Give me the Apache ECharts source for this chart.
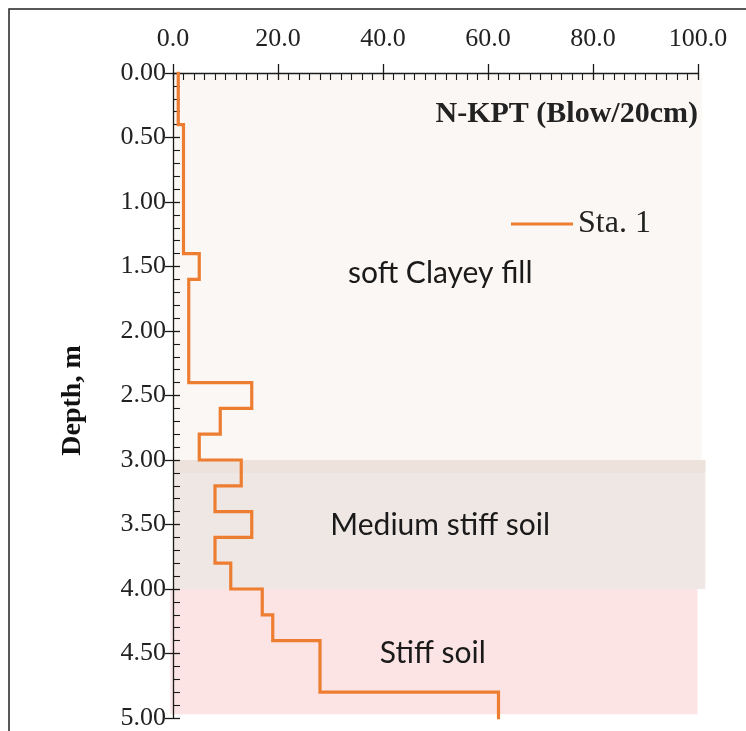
<!DOCTYPE html>
<html>
<head>
<meta charset="utf-8">
<script src="https://cdn.jsdelivr.net/npm/echarts@6/dist/echarts.min.js"></script>
<style>
html,body{margin:0;padding:0;background:#fff;}
#chart{width:746px;height:731px;}
</style>
</head>
<body>
<div id="chart"></div>
<script>
// ---- data ----
const seriesName = 'Sta. 1';
const layerTop    = [0.0, 0.4, 1.4, 1.6, 2.4, 2.6, 2.8, 3.0, 3.2, 3.4, 3.6, 3.8, 4.0, 4.2, 4.4, 4.8];
const layerBottom = [0.4, 1.4, 1.6, 2.4, 2.6, 2.8, 3.0, 3.2, 3.4, 3.6, 3.8, 4.0, 4.2, 4.4, 4.8, 5.0];
const nValues     = [1,   2,   5,   3,   15,  9,   5,   13,  8,   15,  8,   11,  17,  19,  28,  62];

const soilNames  = ['soft Clayey fill', 'Medium stiff soil', 'Stiff soil'];
const soilTop    = [0.0, 3.0, 4.0];
const soilBottom = [3.0, 4.0, 4.97];
const soilLeftN  = [0.0, 0.0, -0.5];
const soilRightN = [100.7, 101.4, 99.9];
const soilLabelN = [50.9, 50.9, 49.5];
const soilLabelD = [1.55, 3.51, 4.5];

const xTitle = 'N-KPT (Blow/20cm)';
const yTitle = 'Depth, m';

// ---- styles ----
const soilColors = ['#FBF7F4', '#EFE7E4', '#FCE4E4'];
const serif = '"Liberation Serif", "Times New Roman", serif';
const sans = 'Lato, "Open Sans", sans-serif';

// build step profile points
const profile = [];
for (let i = 0; i < nValues.length; i++) {
  profile.push([nValues[i], layerTop[i]]);
  profile.push([nValues[i], layerBottom[i]]);
}
const bands = soilNames.map((n, i) => [soilLeftN[i], soilRightN[i], soilTop[i], soilBottom[i], i]);
const labels = soilNames.map((n, i) => [soilLabelN[i], soilLabelD[i], i]);

const chart = echarts.init(document.getElementById('chart'), null, {renderer: 'canvas'});
const axisColor = '#1a1a1a';
const option = {
  backgroundColor: '#ffffff',
  animation: false,
  title: {
    text: xTitle,
    right: 43, top: 94,
    textStyle: {fontFamily: serif, fontWeight: 'bold', fontSize: 30, color: '#222'}
  },
  legend: {
    data: [seriesName],
    left: 506, top: 203,
    itemWidth: 62, itemHeight: 14, itemGap: 4,
    icon: 'path://M0,6 L62,6 L62,9 L0,9 Z',
    textStyle: {fontFamily: serif, fontSize: 32, color: '#222', padding: [3, 0, 0, 0]}
  },
  graphic: [{
    type: 'rect', shape: {x: 9, y: 9, width: 1000, height: 1000},
    style: {fill: 'none', stroke: '#222', lineWidth: 1.5}, z: 100
  }],
  grid: {left: 173, right: 48, top: 73, bottom: 11, containLabel: false},
  xAxis: [{
    type: 'value', position: 'top', min: 0, max: 100, interval: 20,
    axisLine: {show: true, lineStyle: {color: axisColor, width: 1.3}},
    axisTick: {show: true, inside: true, length: 7, lineStyle: {color: axisColor, width: 1.3}},
    minorTick: {show: true, splitNumber: 10, length: 7, lineStyle: {color: axisColor, width: 1.1}},
    axisLabel: {show: true, margin: 21, formatter: v => v.toFixed(1), fontFamily: serif, fontSize: 26, color: '#222'},
    splitLine: {show: false}, minorSplitLine: {show: false}
  }, {
    type: 'value', position: 'top', min: 0, max: 100, interval: 20,
    axisLine: {show: false},
    axisTick: {show: true, inside: false, length: 9, lineStyle: {color: axisColor, width: 1.3}},
    axisLabel: {show: false}, splitLine: {show: false}
  }],
  yAxis: [{
    type: 'value', position: 'left', inverse: true, min: 0, max: 5, interval: 0.5,
    name: yTitle, nameLocation: 'middle', nameGap: 86, nameRotate: 90,
    nameTextStyle: {fontFamily: serif, fontWeight: 'bold', fontSize: 28, color: '#111', padding: [0, 10, 0, 0]},
    axisLine: {show: true, lineStyle: {color: axisColor, width: 1.3}},
    axisTick: {show: true, inside: true, length: 7, lineStyle: {color: axisColor, width: 1.3}},
    minorTick: {show: true, splitNumber: 5, length: 7, lineStyle: {color: axisColor, width: 1.1}},
    axisLabel: {show: true, margin: 7, formatter: v => v.toFixed(2), fontFamily: serif, fontSize: 26, color: '#222'},
    splitLine: {show: false}, minorSplitLine: {show: false}
  }, {
    type: 'value', position: 'left', inverse: true, min: 0, max: 5, interval: 0.5,
    axisLine: {show: false},
    axisTick: {show: true, inside: false, length: 8, lineStyle: {color: axisColor, width: 1.3}},
    axisLabel: {show: false}, splitLine: {show: false}
  }],
  series: [{
    type: 'custom', name: 'bands', z: -1, silent: true,
    xAxisIndex: 0, yAxisIndex: 0, clip: false,
    encode: {x: [0, 1], y: [2, 3]},
    data: bands,
    renderItem: function (params, api) {
      const p0 = api.coord([api.value(0), api.value(2)]);
      const p1 = api.coord([api.value(1), api.value(3)]);
      const idx = api.value(4);
      const children = [{
        type: 'rect',
        shape: {x: p0[0], y: p0[1], width: p1[0] - p0[0], height: p1[1] - p0[1]},
        style: {fill: soilColors[idx]}
      }];
      if (idx === 1) {
        const pStrip = api.coord([api.value(1), api.value(2) + 0.1]);
        children.push({
          type: 'rect',
          shape: {x: p0[0], y: p0[1], width: p1[0] - p0[0], height: pStrip[1] - p0[1]},
          style: {fill: '#EDE3DC'}
        });
      }
      return {type: 'group', children: children};
    }
  }, {
    type: 'custom', name: 'soil labels', z: 1, silent: true,
    xAxisIndex: 0, yAxisIndex: 0, clip: false,
    encode: {x: 0, y: 1},
    data: labels,
    renderItem: function (params, api) {
      const p = api.coord([api.value(0), api.value(1)]);
      return {
        type: 'text',
        style: {
          x: p[0], y: p[1], text: soilNames[api.value(2)],
          align: 'center', verticalAlign: 'middle',
          fontFamily: sans, fontSize: 30, fill: '#1a1a1a'
        }
      };
    }
  }, {
    type: 'line', name: seriesName, xAxisIndex: 0, yAxisIndex: 0,
    data: profile, symbol: 'none', z: 5,
    lineStyle: {color: '#ED7D31', width: 3.2, cap: 'square', join: 'miter'},
    itemStyle: {color: '#ED7D31'}
  }]
};
chart.setOption(option);
</script>
</body>
</html>
